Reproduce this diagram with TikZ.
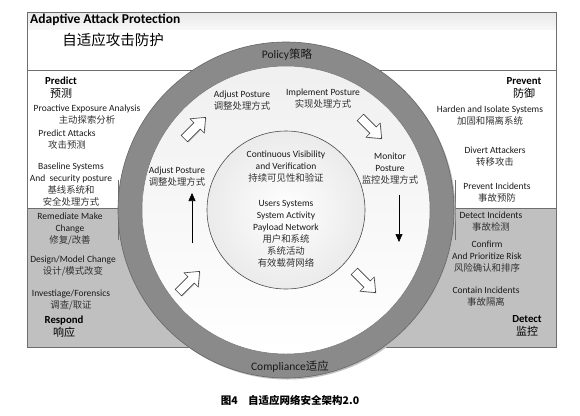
\documentclass[tikz,border=0pt]{standalone}
\usepackage{fontspec}
\setmainfont{Carlito}
\newfontfamily\cjk{Noto Sans CJK SC}
\usetikzlibrary{arrows.meta,shadows}
\newcommand\zh[1]{{\cjk\fontsize{9.4}{12}\selectfont\color{black!80}#1}}
\newcommand\zhh[1]{{\cjk\mdseries\fontsize{11}{13}\selectfont #1}}
\definecolor{ringgray}{RGB}{138,138,138}
\definecolor{bandgray}{RGB}{192,192,192}
\definecolor{framegray}{RGB}{110,110,110}
\begin{document}
\begin{tikzpicture}[x=1pt,y=-1pt,
  lbl/.style={align=center,inner sep=0pt,font=\fontsize{9.5}{12}\selectfont,text=black!90},
  hd/.style={align=center,inner sep=0pt,font=\fontsize{10.8}{13}\selectfont\bfseries},
  ringlbl/.style={inner sep=0pt,font=\fontsize{11.5}{13}\selectfont,text=black!90},
  framel/.style={draw=framegray,line width=0.6pt},
  thinarrow/.style={line width=0.6pt,-{Triangle[length=8pt,width=7pt]}},
  barrow/.pic={
    \draw[fill=white,draw=black!75,line width=0.6pt,
      drop shadow={shadow xshift=0.8pt,shadow yshift=-0.8pt,opacity=0.35}]
      (-15,-4.5) -- (3,-4.5) -- (3,-10) -- (15,0) -- (3,10) -- (3,4.5) -- (-15,4.5) -- cycle;
  }]
\useasboundingbox (0,0) rectangle (580,415);
\fill[white] (0,0) rectangle (580,415);

% frame and bands
\shade[top color=gray!18,bottom color=gray!6] (27,12) rectangle (556,29);
\fill[bandgray] (27,208) rectangle (556,347);
\draw[framel] (27,70) -- (556,70);
\draw[framel] (27,208) -- (556,208);
\draw[framel] (118,180) -- (118,240);
\draw[framel] (455,180) -- (455,240);
\draw[framel] (27,12) rectangle (556,347);

% ring
\coordinate (c) at (286,210);
\fill[black!25] ([shift={(1.5,1.5)}]c) circle[radius=168];
\draw[fill=ringgray,draw=black!60,line width=0.6pt] (c) circle[radius=168];
\shade[top color=gray!12,bottom color=white,draw=black!55,line width=0.5pt] (c) circle[radius=144];
\shade[inner color=white,outer color=gray!16,draw=black!70,line width=0.6pt] (c) circle[radius=79];

% titles
\node[anchor=west,inner sep=0pt,font=\fontsize{13.5}{15}\selectfont\bfseries] (title) at (30,20) {Adaptive Attack Protection};
\node[inner sep=0pt,font=\cjk\fontsize{14.5}{16}\selectfont] (titlezh) at (113,40) {自适应攻击防护};

% ring labels
\node[ringlbl] (policy) at (287,55) {Policy{\cjk 策略}};
\node[ringlbl] (compl) at (290,367) {Compliance{\cjk 适应}};

% left upper
\node[hd] (pred) at (61,87.5) {Predict\\\zhh{预测}};
\node[lbl] (pea) at (87,115) {Proactive Exposure Analysis\\\zh{主动探索分析}};
\node[lbl] (pa) at (67,139.5) {Predict Attacks\\\zh{攻击预测}};
\node[lbl] (bs) at (71,185) {Baseline Systems\\And\ \ security posture\\\zh{基线系统和}\\\zh{安全处理方式}};

% left lower
\node[lbl] (rm) at (70,229) {Remediate Make\\Change\\\zh{修复/改善}};
\node[lbl] (dm) at (73,266) {Design/Model Change\\\zh{设计/模式改变}};
\node[lbl] (inv) at (71,300.5) {Investiage/Forensics\\\zh{调查/取证}};
\node[hd] (resp) at (64,327) {Respond\\\zhh{响应}};

% right upper
\node[hd] (prev) at (524,87.5) {Prevent\\\zhh{防御}};
\node[lbl] (har) at (490,115.5) {Harden and Isolate Systems\\\zh{加固和隔离系统}};
\node[lbl] (div) at (495,157) {Divert Attackers\\\zh{转移攻击}};
\node[lbl] (pi) at (497,193) {Prevent Incidents\\\zh{事故预防}};

% right lower
\node[lbl] (di) at (491,222) {Detect Incidents\\\zh{事故检测}};
\node[lbl] (conf) at (487,256.5) {Confirm\\And Prioritize Risk\\\zh{风险确认和排序}};
\node[lbl] (ci) at (486,296.5) {Contain Incidents\\\zh{事故隔离}};
\node[hd] (det) at (527,325.5) {Detect\\\zhh{监控}};

% inside ring
\node[lbl] (adj1) at (242,100.5) {Adjust Posture\\\zh{调整处理方式}};
\node[lbl] (impl) at (323,99) {Implement Posture\\\zh{实现处理方式}};
\node[lbl] (adj2) at (177,177) {Adjust Posture\\\zh{调整处理方式}};
\node[lbl] (mon) at (390,169) {Monitor\\Posture\\\zh{监控处理方式}};

% center
\node[lbl] (cvv) at (286,167) {Continuous Visibility\\and Verification\\\zh{持续可见性和验证}};
\node[lbl] (usr) at (286,234) {Users Systems\\System Activity\\Payload Network\\\zh{用户和系统}\\\zh{系统活动}\\\zh{有效载荷网络}};

% block arrows
\pic[rotate=45] at (195,128) {barrow};
\pic[rotate=-45] at (371,128) {barrow};
\pic[rotate=45] at (189,282) {barrow};
\pic[rotate=-45] at (365,282) {barrow};

% thin arrows
\coordinate (lu0) at (192,243);
\coordinate (lu1) at (192,193);
\coordinate (rd0) at (399,195);
\coordinate (rd1) at (399,242);
\draw[thinarrow] (lu0) -- (lu1);
\draw[thinarrow] (rd0) -- (rd1);

% caption
\node[inner sep=0pt,font=\cjk\bfseries\fontsize{10.5}{12}\selectfont] (cap) at (290,400) {图4\hspace{1em}自适应网络安全架构2.0};
\end{tikzpicture}
\end{document}
